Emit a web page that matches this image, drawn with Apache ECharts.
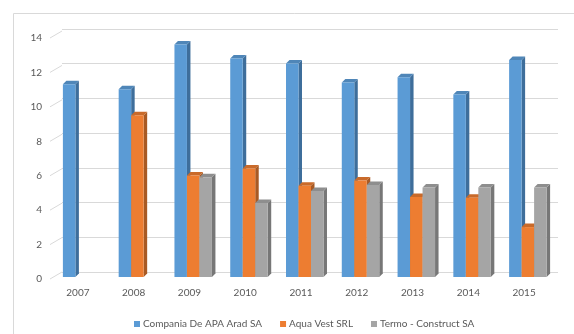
<!DOCTYPE html>
<html>
<head>
<meta charset="utf-8">
<script src="https://cdn.jsdelivr.net/npm/echarts@6/dist/echarts.min.js"></script>
<style>
  html, body { margin: 0; padding: 0; background: #fff; }
  #chart { width: 574px; height: 334px; }
</style>
</head>
<body>
<div id="chart"></div>
<script>
// data
const years = ['2007', '2008', '2009', '2010', '2011', '2012', '2013', '2014', '2015'];
const apaArad = [11.2, 10.9, 13.5, 12.7, 12.4, 11.3, 11.6, 10.6, 12.6];
const aquaVest = [null, 9.4, 5.9, 6.3, 5.3, 5.6, 4.65, 4.6, 2.9];
const termoConstruct = [null, null, 5.8, 4.3, 5.0, 5.35, 5.2, 5.2, 5.2];
const yTicks = [0, 2, 4, 6, 8, 10, 12, 14];

const names = ['Compania De APA Arad SA', 'Aqua Vest SRL', 'Termo - Construct SA'];
const palette = [
  { front: '#5B9BD5', side: '#3E6E9B', top: '#4F86B8' },
  { front: '#ED7D31', side: '#A85A24', top: '#C96A2A' },
  { front: '#A5A5A5', side: '#777777', top: '#8E8E8E' }
];

const depth = 3.5;
const shiftX = 3.75;
const shiftY = -2;

var chart = echarts.init(document.getElementById('chart'));

function bar3d(idx) {
  let c = palette[idx];
  return function (params, api) {
    let v = api.value(1);
    if (v == null || isNaN(v)) return;
    let base = api.coord([api.value(0), 0]);
    let top = api.coord([api.value(0), v]);
    let band = api.size([1, 0])[0];
    let w = band * 0.224;
    let x0 = base[0] - 1.5 * w + idx * w + shiftX;
    let yb = base[1] + shiftY;
    let yt = top[1] + shiftY;
    let d = depth;
    return {
      type: 'group',
      children: [
        {
          type: 'polygon',
          shape: { points: [[x0 + w, yt], [x0 + w + d, yt - d], [x0 + w + d, yb - d], [x0 + w, yb]] },
          style: { fill: c.side }
        },
        {
          type: 'polygon',
          shape: { points: [[x0, yt], [x0 + d, yt - d], [x0 + w + d, yt - d], [x0 + w, yt]] },
          style: { fill: c.top }
        },
        {
          type: 'rect',
          shape: { x: x0, y: yt, width: w, height: yb - yt },
          style: { fill: c.front }
        }
      ]
    };
  };
}

function makeSeries(idx, values) {
  return {
    name: names[idx],
    type: 'custom',
    xAxisIndex: 0,
    yAxisIndex: 0,
    itemStyle: { color: palette[idx].front },
    renderItem: bar3d(idx),
    encode: { x: 0, y: 1 },
    data: values.map((v, i) => [i, v]),
    z: 3 + idx
  };
}

var option = {
  animation: false,
  textStyle: { fontFamily: 'Lato', color: '#595959' },
  graphic: [
    {
      type: 'rect',
      shape: { x: 13.5, y: 13.5, width: 600, height: 400 },
      style: { fill: 'none', stroke: '#D9D9D9', lineWidth: 1 },
      silent: true
    }
  ],
  legend: {
    data: names,
    top: 314,
    left: 129,
    icon: 'rect',
    itemWidth: 6,
    itemHeight: 6,
    itemGap: 18,
    textStyle: { fontFamily: 'Lato', fontSize: 10, color: '#595959', padding: [0, 0, 0, -2] }
  },
  grid: [
    // front plane: labels and bars
    { left: 50, right: 22, top: 38, bottom: 55 },
    // back wall: gridlines
    { left: 62, right: 16, top: 29, bottom: 62 }
  ],
  xAxis: [
    {
      type: 'category',
      gridIndex: 0,
      data: years,
      axisLine: { show: false },
      axisTick: { show: false },
      axisLabel: { margin: 9, fontSize: 10, color: '#595959', fontFamily: 'Lato' }
    },
    { type: 'category', gridIndex: 1, data: years, show: false }
  ],
  yAxis: [
    {
      type: 'value',
      gridIndex: 0,
      min: 0,
      max: 14,
      interval: 2,
      splitLine: { show: false },
      axisLine: { show: false },
      axisTick: { show: false },
      axisLabel: { margin: 8, fontSize: 10, color: '#595959', fontFamily: 'Lato' }
    },
    {
      type: 'value',
      gridIndex: 1,
      min: 0,
      max: 14,
      interval: 2,
      axisLine: { show: false },
      axisTick: { show: false },
      axisLabel: { show: false },
      splitLine: { show: true, lineStyle: { color: '#D9D9D9', width: 1 } }
    }
  ],
  series: [
    {
      // diagonal ticks joining the labels to the back wall
      type: 'custom',
      xAxisIndex: 0,
      yAxisIndex: 0,
      silent: true,
      encode: { x: 0, y: 1 },
      data: yTicks.map((t) => [0, t]),
      renderItem: function (params, api) {
        let p = api.coord([0, api.value(1)]);
        let x = params.coordSys.x;
        return {
          type: 'line',
          shape: { x1: x, y1: p[1], x2: x + 12, y2: p[1] - 7 },
          style: { stroke: '#D9D9D9', lineWidth: 1 }
        };
      },
      z: 1
    },
    makeSeries(0, apaArad),
    makeSeries(1, aquaVest),
    makeSeries(2, termoConstruct)
  ]
};

chart.setOption(option);
</script>
</body>
</html>
